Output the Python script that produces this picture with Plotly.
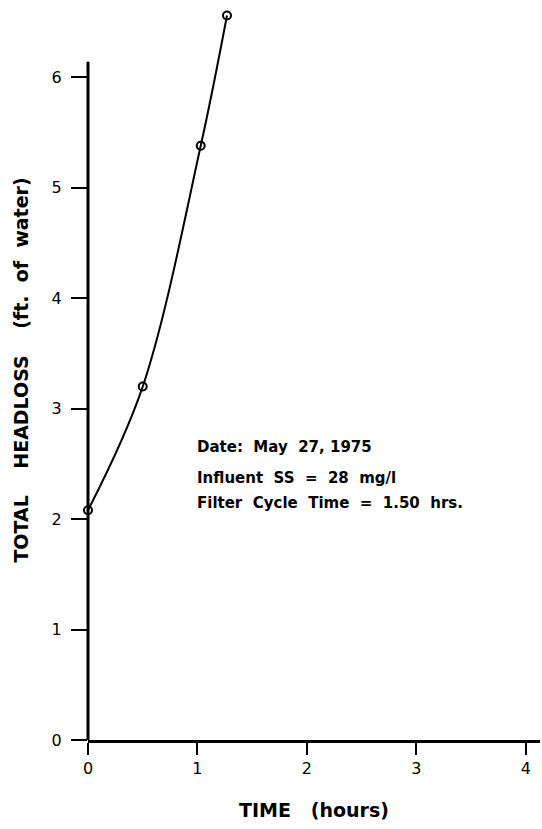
import plotly.graph_objects as go

time_hours = [0.0, 0.5, 1.03, 1.27]
headloss_ft = [2.08, 3.20, 5.38, 6.56]
x_ticks = [0, 1, 2, 3, 4]
y_ticks = [0, 1, 2, 3, 4, 5, 6]
info_lines = ["Date:  May  27, 1975", "Influent  SS  =  28  mg/l", "Filter  Cycle  Time  =  1.50  hrs."]
info_y = [2.65, 2.37, 2.15]

FONT = "DejaVu Sans"
Y_TOP = 6.7
Y_AXIS_END = 6.14

fig = go.Figure()
fig.add_trace(go.Scatter(
    x=time_hours, y=headloss_ft, mode="lines+markers",
    line=dict(color="black", width=2, shape="spline", smoothing=1.0),
    marker=dict(symbol="circle-open", size=8, color="black", line=dict(width=2)),
    cliponaxis=False, showlegend=False,
))

# y-axis line (stops below the top data point, as in the original)
fig.add_shape(type="line", xref="paper", yref="paper", x0=0, x1=0, y0=0, y1=Y_AXIS_END / Y_TOP,
              line=dict(color="black", width=3), layer="above")

for txt, yv in zip(info_lines, info_y):
    fig.add_annotation(
        x=0.98, y=yv, xref="x", yref="y", xanchor="left", yanchor="middle",
        text=txt, align="left", showarrow=False,
        font=dict(family=FONT, size=15, color="black", weight="bold"),
    )

fig.update_layout(
    width=542, height=829, margin=dict(l=88, r=2, t=0, b=89),
    plot_bgcolor="white", paper_bgcolor="white",
    font=dict(family=FONT, color="black"),
    xaxis=dict(range=[0, 4.13], tickvals=x_ticks, ticks="outside", ticklen=12, tickwidth=2,
               tickcolor="black", showline=True, linewidth=3, linecolor="black",
               showgrid=False, zeroline=False, tickfont=dict(size=16),
               title=dict(text="<b>TIME   (hours)</b>", font=dict(size=19), standoff=27)),
    yaxis=dict(range=[0, Y_TOP], tickvals=y_ticks, ticks="outside", ticklen=16, tickwidth=2,
               tickcolor="black", showline=False, showgrid=False, zeroline=False,
               tickfont=dict(size=16), ticklabelstandoff=6,
               title=dict(text="<b>TOTAL    HEADLOSS    (ft.  of  water)</b>", font=dict(size=19), standoff=17)),
)
fig.write_html("out.html")
